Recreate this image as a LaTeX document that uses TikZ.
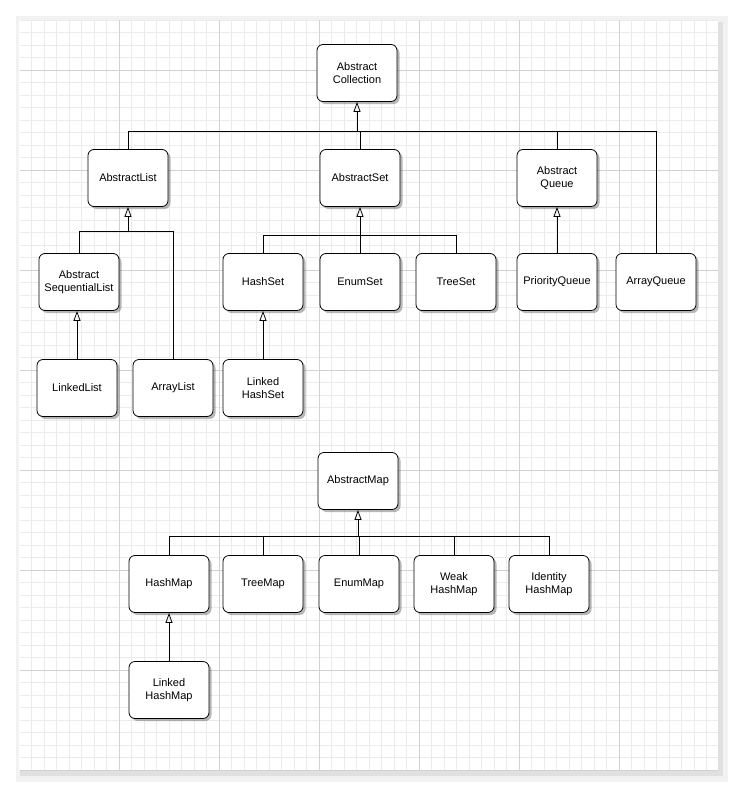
\documentclass[tikz,border=0pt]{standalone}
\usepackage{fontspec}
\setmainfont{Liberation Sans}
\usetikzlibrary{arrows.meta,shadows}
\begin{document}
\begin{tikzpicture}[x=1pt,y=-1pt,
  cls/.style={draw,thick,rounded corners=6pt,fill=white,minimum width=80pt,minimum height=57pt,align=center,font=\fontsize{11}{13.5}\selectfont,
    drop shadow={shadow xshift=2.5pt,shadow yshift=-2.5pt,opacity=0.4,fill=black!70}},
  inh/.style={-{Triangle[open,width=7pt,length=10pt]},thick},
  ln/.style={thick}]
\useasboundingbox (0,0) rectangle (734,792);
\fill[black!5] (16,16) rectangle (728,782);
\fill[black!12] (20,22) rectangle (723,776);
\fill[white] (19,20) rectangle (718,770);
\begin{scope}
\clip (20,20) rectangle (718,770);
\foreach \i in {0,...,56} {\draw[black!8,line width=0.8pt] (19+\i*12.5,20) -- (19+\i*12.5,770);}
\foreach \i in {0,...,61} {\draw[black!8,line width=0.8pt] (20,20+\i*12.5) -- (718,20+\i*12.5);}
\foreach \i in {0,...,7} {\draw[black!18,line width=0.8pt] (19+\i*100,20) -- (19+\i*100,770);}
\foreach \i in {0,...,7} {\draw[black!18,line width=0.8pt] (20,70+\i*100) -- (718,70+\i*100);}
\end{scope}
\node[cls] (ac) at (357,73) {Abstract\\Collection};
\node[cls] (al) at (128,178) {AbstractList};
\node[cls] (as) at (360,178) {AbstractSet};
\node[cls] (aq) at (557,178) {Abstract\\Queue};
\node[cls] (asl) at (79,282) {Abstract\\SequentialList};
\node[cls] (hs) at (263,282) {HashSet};
\node[cls] (es) at (360,282) {EnumSet};
\node[cls] (ts) at (456,282) {TreeSet};
\node[cls] (pq) at (557,282) {PriorityQueue};
\node[cls] (aqq) at (656,282) {ArrayQueue};
\node[cls] (ll) at (77,388) {LinkedList};
\node[cls] (arl) at (173,388) {ArrayList};
\node[cls] (lhs) at (263,388) {Linked\\HashSet};
\node[cls] (am) at (358,481) {AbstractMap};
\node[cls] (hm) at (169,584) {HashMap};
\node[cls] (tm) at (263,584) {TreeMap};
\node[cls] (em) at (359,584) {EnumMap};
\node[cls] (whm) at (454,584) {Weak\\HashMap};
\node[cls] (ihm) at (549,584) {Identity\\HashMap};
\node[cls] (lhm) at (169,690) {Linked\\HashMap};
% collection bus
\coordinate (b1) at (357,131);
\draw[ln] (al.north) |- (aqq.north |- b1) -- (aqq.north);
\draw[ln] (as.north) -- (as.north |- b1);
\draw[ln] (aq.north) -- (aq.north |- b1);
\draw[inh] (b1) -- (ac.south);
% list bus
\coordinate (b2) at (128,231);
\draw[ln] (asl.north) |- (arl.north |- b2) -- (arl.north);
\draw[inh] (b2) -- (al.south);
\draw[inh] (ll.north) -- (ll.north |- asl.south);
% set bus
\coordinate (b3) at (360,235);
\draw[ln] (hs.north) |- (ts.north |- b3) -- (ts.north);
\draw[ln] (es.north) -- (b3);
\draw[inh] (b3) -- (as.south);
\draw[inh] (lhs.north) -- (hs.south);
\draw[inh] (pq.north) -- (aq.south);
% map bus
\coordinate (b4) at (358,536);
\draw[ln] (hm.north) |- (ihm.north |- b4) -- (ihm.north);
\draw[ln] (tm.north) -- (tm.north |- b4);
\draw[ln] (em.north) -- (em.north |- b4);
\draw[ln] (whm.north) -- (whm.north |- b4);
\draw[inh] (b4) -- (am.south);
\draw[inh] (lhm.north) -- (hm.south);
\end{tikzpicture}
\end{document}
